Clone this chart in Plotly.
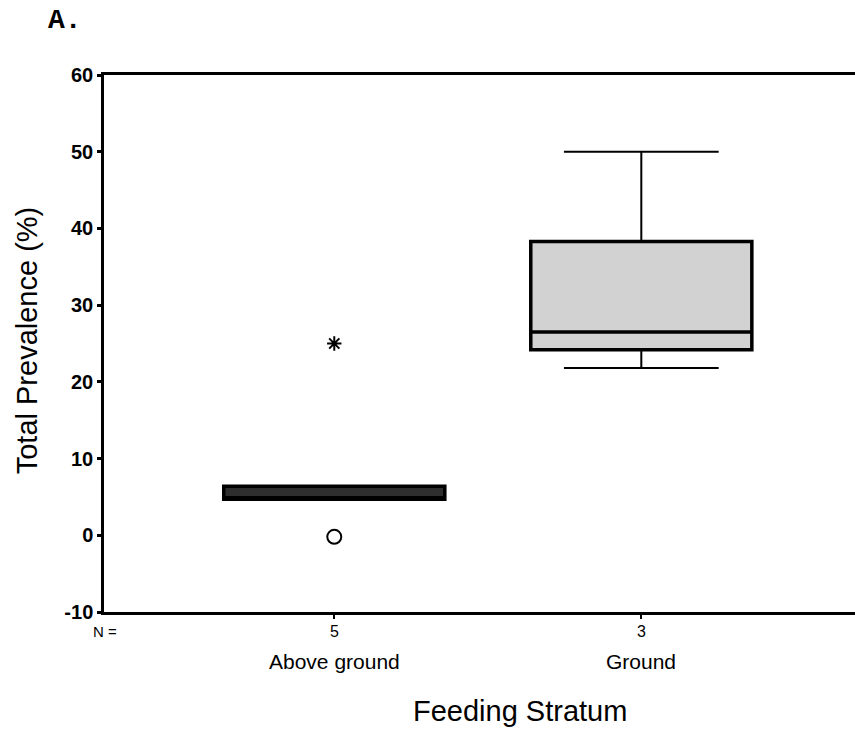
import plotly.graph_objects as go

# ---- data ----
categories = ["Above ground", "Ground"]
n_counts = ["5", "3"]
q1 = [4.7, 24.2]
median = [4.9, 26.5]
q3 = [6.4, 38.3]
lower_fence = [4.7, 21.8]
upper_fence = [6.4, 50.0]
extreme_cat = ["Above ground"]
extreme_val = [25.0]
outlier_cat = ["Above ground"]
outlier_val = [-0.2]
fill_colors = ["#2e2e2e", "#d2d2d2"]
y_ticks = [-10, 0, 10, 20, 30, 40, 50, 60]
y_tick_labels = ["-10", "0", "10", "20", "30", "40", "50", "60"]

pos = {c: i + 1 for i, c in enumerate(categories)}

fig = go.Figure()
for i, c in enumerate(categories):
    # whiskers (thin line)
    fig.add_trace(go.Box(
        x=[pos[c]], q1=[q1[i]], median=[median[i]], q3=[q3[i]],
        lowerfence=[lower_fence[i]], upperfence=[upper_fence[i]],
        width=0.72, whiskerwidth=0.7,
        fillcolor=fill_colors[i],
        line=dict(color="black", width=2),
        boxpoints=False, showlegend=False, hoverinfo="skip",
    ))
    # box body (thick outline)
    fig.add_trace(go.Box(
        x=[pos[c]], q1=[q1[i]], median=[median[i]], q3=[q3[i]],
        lowerfence=[q1[i]], upperfence=[q3[i]],
        width=0.72, whiskerwidth=0,
        fillcolor=fill_colors[i],
        line=dict(color="black", width=3.5),
        boxpoints=False, showlegend=False, hoverinfo="skip",
    ))

fig.add_trace(go.Scatter(
    x=[pos[c] for c in extreme_cat], y=extreme_val, mode="markers",
    marker=dict(symbol="asterisk", size=12, color="black",
                line=dict(color="black", width=2)),
    showlegend=False, hoverinfo="skip"))
fig.add_trace(go.Scatter(
    x=[pos[c] for c in outlier_cat], y=outlier_val, mode="markers",
    marker=dict(symbol="circle-open", size=14, color="black",
                line=dict(color="black", width=2)),
    showlegend=False, hoverinfo="skip"))

font_family = "Liberation Sans, Arial, sans-serif"

fig.update_layout(
    width=855, height=748,
    margin=dict(l=104, r=0, t=75, b=136),
    paper_bgcolor="white", plot_bgcolor="white",
    boxmode="overlay",
    font=dict(family=font_family, color="black"),
    xaxis=dict(
        range=[0.25, 2.696], tickvals=[1, 2], ticktext=["", ""],
        showline=True, linecolor="black", linewidth=2.5, mirror=True,
        ticks="outside", ticklen=4, tickwidth=2, tickcolor="black",
        showgrid=False, zeroline=False,
    ),
    yaxis=dict(
        range=[-10, 60], tickvals=y_ticks, ticktext=y_tick_labels,
        showline=True, linecolor="black", linewidth=2.5,
        ticks="outside", ticklen=4, tickwidth=3, tickcolor="black",
        tickfont=dict(size=20, weight="bold"),
        showgrid=False, zeroline=False,
    ),
)

# category annotations
for i, c in enumerate(categories):
    fig.add_annotation(x=pos[c], y=-0.0354, xref="x", yref="paper",
                       text=n_counts[i], showarrow=False,
                       font=dict(size=16), yanchor="middle")
    fig.add_annotation(x=pos[c], y=-0.093, xref="x", yref="paper",
                       text=c, showarrow=False,
                       font=dict(size=21), yanchor="middle")

fig.add_annotation(x=0.0013, y=-0.0354, xref="paper", yref="paper",
                   text="N =", showarrow=False, font=dict(size=15),
                   xanchor="center", yanchor="middle")
fig.add_annotation(x=0.554, y=-0.184, xref="paper", yref="paper",
                   text="Feeding Stratum", showarrow=False,
                   font=dict(size=29), xanchor="center", yanchor="middle")
fig.add_annotation(x=-0.1025, y=0.506, xref="paper", yref="paper",
                   text="Total Prevalence (%)", showarrow=False, textangle=-90,
                   font=dict(size=29), xanchor="center", yanchor="middle")
fig.add_annotation(x=-0.052, y=1.1006, xref="paper", yref="paper",
                   text="<b>A.</b>", showarrow=False,
                   font=dict(size=28, family="Liberation Mono, Courier New, monospace"),
                   xanchor="center", yanchor="middle")

fig.write_html("out.html")
